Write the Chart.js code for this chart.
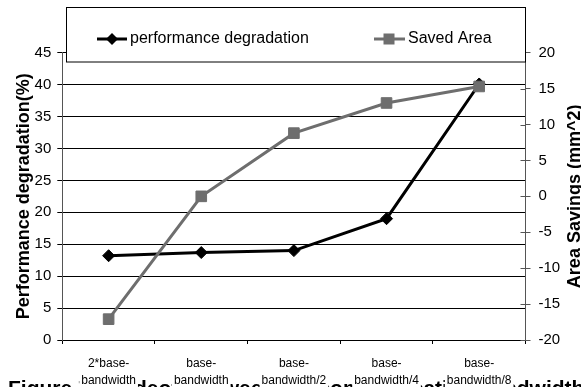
<!DOCTYPE html>
<html><head><meta charset="utf-8">
<script src="https://cdn.jsdelivr.net/npm/chart.js@4.4.0/dist/chart.umd.min.js"></script>
<style>html,body{margin:0;padding:0;background:#fff;overflow:hidden}canvas{display:block}</style>
</head><body>
<canvas id="c" width="581" height="387"></canvas>
<script>
const categories = [["2*base-","bandwidth"],["base-","bandwidth"],["base-","bandwidth/2"],["base-","bandwidth/4"],["base-","bandwidth/8"]];
const perfDegradation = [13.2, 13.7, 14.0, 19.0, 40.1];
const savedArea = [-17.1, 0.0, 8.8, 13.0, 15.3];
const leftRange = [0, 45, 5];
const rightRange = [-20, 20, 5];
const seriesLabels = ["performance degradation", "Saved Area"];
const axisTitles = ["Performance degradation(%)", "Area Savings (mm^2)"];
const caption = "Figure 7: Tradeoff between the communication bandwidth and area";

const FONT = '"Liberation Sans", Arial, Helvetica, sans-serif';
const BLACK = '#000000';
const GRAY = '#6e6e6e';
const AXIS = '#555555';

function diamond(ctx, x, y, r, color) {
  ctx.beginPath();
  ctx.moveTo(x, y - r); ctx.lineTo(x + r, y); ctx.lineTo(x, y + r); ctx.lineTo(x - r, y); ctx.closePath();
  ctx.fillStyle = color; ctx.fill();
}
function square(ctx, x, y, h, color) {
  ctx.fillStyle = color; ctx.fillRect(x - h, y - h, 2 * h, 2 * h);
}

const overlay = {
  id: 'overlay',
  beforeDraw(chart) {
    const ctx = chart.ctx;
    ctx.save();
    // caption (clipped by the window bottom), drawn under the axis labels
    ctx.fillStyle = BLACK;
    ctx.font = 'bold 21px ' + FONT;
    ctx.textAlign = 'left'; ctx.textBaseline = 'alphabetic';
    ctx.fillText(caption, 8, 395);
    // white patches behind the category labels
    const xs = chart.scales.x;
    ctx.font = '12px ' + FONT;
    ctx.fillStyle = '#ffffff';
    categories.forEach((lines, i) => {
      const cx = xs.getPixelForTick(i);
      const w = Math.max(...lines.map(l => ctx.measureText(l).width)) + 4;
      ctx.fillRect(cx - w / 2, 372, w, 20);
    });
    ctx.restore();
  },
  afterDraw(chart) {
    const ctx = chart.ctx, a = chart.chartArea;
    ctx.save();
    // inner part of right-axis ticks
    const y2 = chart.scales.y2;
    ctx.strokeStyle = AXIS; ctx.lineWidth = 1;
    y2.ticks.forEach((t, i) => {
      const yy = Math.round(y2.getPixelForTick(i)) + 0.5;
      ctx.beginPath(); ctx.moveTo(a.right - 5, yy); ctx.lineTo(a.right, yy); ctx.stroke();
    });
    // legend box
    const bx = a.left + 4, by = 7.5, bw = a.right - bx, bh = 54.5;
    ctx.fillStyle = '#fff'; ctx.fillRect(bx, by, bw, bh);
    ctx.strokeStyle = BLACK; ctx.lineWidth = 1;
    ctx.strokeRect(Math.round(bx) + 0.5, by, Math.round(bw), bh);
    const ly = 39;
    ctx.lineWidth = 3;
    ctx.strokeStyle = BLACK;
    ctx.beginPath(); ctx.moveTo(97, ly); ctx.lineTo(127, ly); ctx.stroke();
    diamond(ctx, 112, ly, 6, BLACK);
    ctx.strokeStyle = GRAY;
    ctx.beginPath(); ctx.moveTo(374, ly); ctx.lineTo(405, ly); ctx.stroke();
    square(ctx, 389, ly, 5.5, GRAY);
    ctx.fillStyle = BLACK;
    ctx.font = '16px ' + FONT;
    ctx.textBaseline = 'middle'; ctx.textAlign = 'left';
    ctx.fillText(seriesLabels[0], 130, ly);
    ctx.fillText(seriesLabels[1], 408, ly);
    // axis titles
    const cy = (a.top + a.bottom) / 2;
    ctx.font = 'bold 18px ' + FONT;
    ctx.textAlign = 'center'; ctx.textBaseline = 'middle';
    ctx.save(); ctx.translate(24, cy); ctx.rotate(-Math.PI / 2); ctx.fillText(axisTitles[0], 0, 0); ctx.restore();
    ctx.save(); ctx.translate(575, cy); ctx.rotate(-Math.PI / 2); ctx.fillText(axisTitles[1], 0, 0); ctx.restore();
    ctx.restore();
  }
};

new Chart(document.getElementById('c'), {
  type: 'line',
  data: {
    labels: categories,
    datasets: [
      {
        label: seriesLabels[0], data: perfDegradation, yAxisID: 'y', order: 1,
        borderColor: BLACK, backgroundColor: BLACK, borderWidth: 3,
        pointStyle: 'rectRot', pointRadius: 6, pointBorderWidth: 1,
        pointBackgroundColor: BLACK, pointBorderColor: BLACK, tension: 0
      },
      {
        label: seriesLabels[1], data: savedArea, yAxisID: 'y2', order: 0,
        borderColor: GRAY, backgroundColor: GRAY, borderWidth: 3,
        pointStyle: 'rect', pointRadius: 7.5, pointBorderWidth: 1,
        pointBackgroundColor: GRAY, pointBorderColor: GRAY, tension: 0
      }
    ]
  },
  options: {
    responsive: false, animation: false, devicePixelRatio: 1,
    layout: { padding: { top: 52.7, left: 0, right: 0, bottom: 0 } },
    plugins: { legend: { display: false }, tooltip: { enabled: false }, title: { display: false } },
    scales: {
      x: {
        offset: true,
        grid: { offset: true, drawOnChartArea: false, drawTicks: true, tickLength: 4, color: BLACK },
        border: { color: BLACK, width: 1 },
        ticks: { color: BLACK, font: { family: FONT, size: 12, lineHeight: 1.45 }, padding: 11, maxRotation: 0, autoSkip: false },
        afterFit(s) { s.height = 47; }
      },
      y: {
        position: 'left', min: leftRange[0], max: leftRange[1],
        grid: { color: BLACK, lineWidth: 1, tickLength: 5, drawTicks: true },
        border: { color: AXIS, width: 1 },
        ticks: { stepSize: leftRange[2], color: BLACK, font: { family: FONT, size: 15 }, padding: 6 },
        afterFit(s) { s.width = 62.3; }
      },
      y2: {
        position: 'right', min: rightRange[0], max: rightRange[1],
        grid: { drawOnChartArea: false, tickLength: 5, drawTicks: true, color: AXIS },
        border: { color: AXIS, width: 1 },
        ticks: { stepSize: rightRange[2], color: BLACK, font: { family: FONT, size: 15 }, padding: 8 },
        afterFit(s) { s.width = 55.5; }
      }
    }
  },
  plugins: [overlay]
});
</script>
</body></html>
